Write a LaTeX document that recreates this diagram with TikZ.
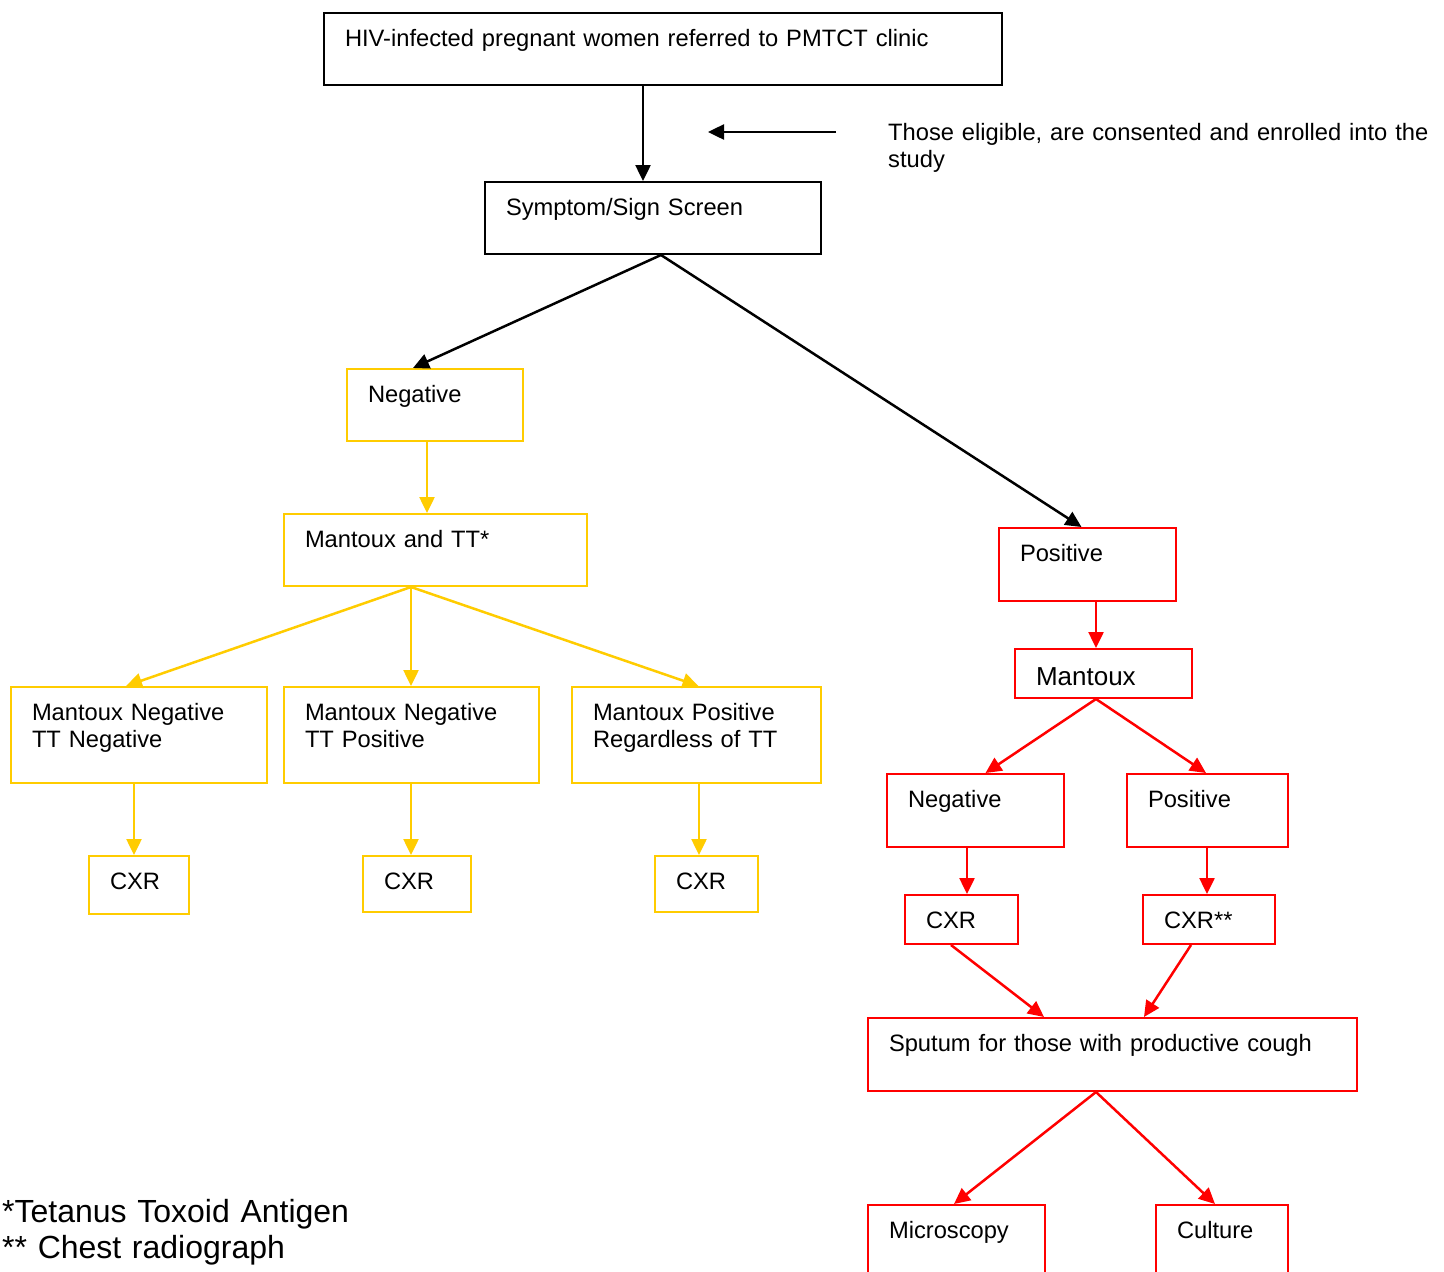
\documentclass[tikz,border=0pt]{standalone}
\usepackage{fontspec}
\setmainfont{Liberation Sans}
\usetikzlibrary{arrows.meta}
\definecolor{gold}{HTML}{FFCC00}
\definecolor{rd}{HTML}{FF0000}
\newcommand\fsA{\fontsize{23.7}{27}\selectfont}
\newcommand\fsB{\fontsize{26}{30}\selectfont}
\newcommand\fsC{\fontsize{32}{36}\selectfont}
\begin{document}
\begin{tikzpicture}[x=1pt,y=-1pt,
  bx/.style={draw, anchor=north west, inner xsep=21pt, inner ysep=0pt, text height=33pt, align=left, font=\fsA, line width=2pt},
  kbox/.style={bx, draw=black},
  ybox/.style={bx, draw=gold},
  rbox/.style={bx, draw=rd},
  arr/.style={line width=2.5pt, -{Triangle[length=16pt,width=15pt]}},
  karr/.style={arr, draw=black},
  yarr/.style={arr, draw=gold},
  rarr/.style={arr, draw=rd},
  txt/.style={anchor=north west, inner sep=0pt, align=left}]
\useasboundingbox (0,0) rectangle (1444,1272);
\fill[white] (0,0) rectangle (1444,1272);
\clip (0,0) rectangle (1444,1272);

% black boxes
\node[kbox, text width=636pt, text depth=39pt] (top) at (323,12) {HIV-infected pregnant women referred to PMTCT clinic};
\node[kbox, text width=294pt, text depth=39pt] (scr) at (484,181) {Symptom/Sign Screen};

% side note
\coordinate (sa) at (836,132);
\coordinate (sb) at (708,132);
\draw[karr] (sa) -- (sb);
\node[txt, font=\fsA, text width=550pt, text height=18pt] (elig) at (888,122) {Those eligible, are consented and enrolled into the\\{}study};

% yellow branch
\node[ybox, text width=134pt, text depth=39pt] (negY) at (346,368) {Negative};
\node[ybox, text width=261pt, text depth=39pt] (mtt) at (283,513) {Mantoux and TT*};
\node[ybox, text width=214pt, text depth=63pt] (mntn) at (10,686) {Mantoux Negative\\{}TT Negative};
\node[ybox, text width=213pt, text depth=63pt] (mntp) at (283,686) {Mantoux Negative\\{}TT Positive};
\node[ybox, text width=207pt, text depth=63pt] (mpr) at (571,686) {Mantoux Positive\\{}Regardless of TT};
\node[ybox, text width=58pt, text depth=25pt] (cx1) at (88,855) {CXR};
\node[ybox, text width=66pt, text depth=23pt] (cx2) at (362,855) {CXR};
\node[ybox, text width=61pt, text depth=23pt] (cx3) at (654,855) {CXR};

% red branch
\node[rbox, text width=135pt, text depth=40pt] (posR) at (998,527) {Positive};
\node[rbox, text width=135pt, text height=36pt, text depth=13pt, font=\fsB] (mantR) at (1014,648) {Mantoux};
\node[rbox, text width=135pt, text depth=40pt] (negR) at (886,773) {Negative};
\node[rbox, text width=119pt, text depth=40pt] (posR2) at (1126,773) {Positive};
\node[rbox, text width=71pt, text depth=16pt] (cxR) at (904,894) {CXR};
\node[rbox, text width=90pt, text depth=16pt] (cxR2) at (1142,894) {CXR**};
\node[rbox, text width=447pt, text depth=40pt] (sput) at (867,1017) {Sputum for those with productive cough};
\node[rbox, text width=135pt, text depth=47pt] (micro) at (867,1204) {Microscopy};
\node[rbox, text width=90pt, text depth=47pt] (cult) at (1155,1204) {Culture};

% footnotes
\node[txt, font=\fsC, text width=420pt, text height=23pt] (fn) at (2,1199) {*Tetanus Toxoid Antigen\\{}** Chest radiograph};

% black connectors
\draw[karr] ([xshift=-20pt]top.south) -- ([xshift=-10pt]scr.north);
\draw[karr] ([xshift=8pt]scr.south) -- ([xshift=-22pt]negY.north);
\draw[karr] ([xshift=8pt]scr.south) -- ([xshift=-6pt]posR.north);

% yellow connectors
\draw[yarr] ([xshift=-8pt]negY.south) -- ([xshift=-8.5pt]mtt.north);
\draw[yarr] ([xshift=-24.5pt]mtt.south) -- ([xshift=-13pt]mntn.north);
\draw[yarr] ([xshift=-24.5pt]mtt.south) -- ([xshift=-0.5pt]mntp.north);
\draw[yarr] ([xshift=-24.5pt]mtt.south) -- ([xshift=2pt]mpr.north);
\draw[yarr] ([xshift=-5pt]mntn.south) -- ([xshift=-5pt]cx1.north);
\draw[yarr] ([xshift=-0.5pt]mntp.south) -- ([xshift=-6pt]cx2.north);
\draw[yarr] ([xshift=2.5pt]mpr.south) -- ([xshift=-7.5pt]cx3.north);

% red connectors
\draw[rarr] ([xshift=8.5pt]posR.south) -- ([xshift=-7.5pt]mantR.north);
\draw[rarr] ([xshift=-7.5pt]mantR.south) -- ([xshift=10pt]negR.north);
\draw[rarr] ([xshift=-7.5pt]mantR.south) -- ([xshift=-1.5pt]posR2.north);
\draw[rarr] ([xshift=-8.5pt]negR.south) -- ([xshift=5.5pt]cxR.north);
\draw[rarr] ([xshift=-0.5pt]posR2.south) -- ([xshift=-2pt]cxR2.north);
\draw[rarr] ([xshift=-10.5pt]cxR.south) -- ([xshift=-68.5pt]sput.north);
\draw[rarr] ([xshift=-18pt]cxR2.south) -- ([xshift=31.5pt]sput.north);
\draw[rarr] ([xshift=-16.5pt]sput.south) -- ([xshift=-2.5pt]micro.north);
\draw[rarr] ([xshift=-16.5pt]sput.south) -- ([xshift=-7pt]cult.north);
\end{tikzpicture}
\end{document}
